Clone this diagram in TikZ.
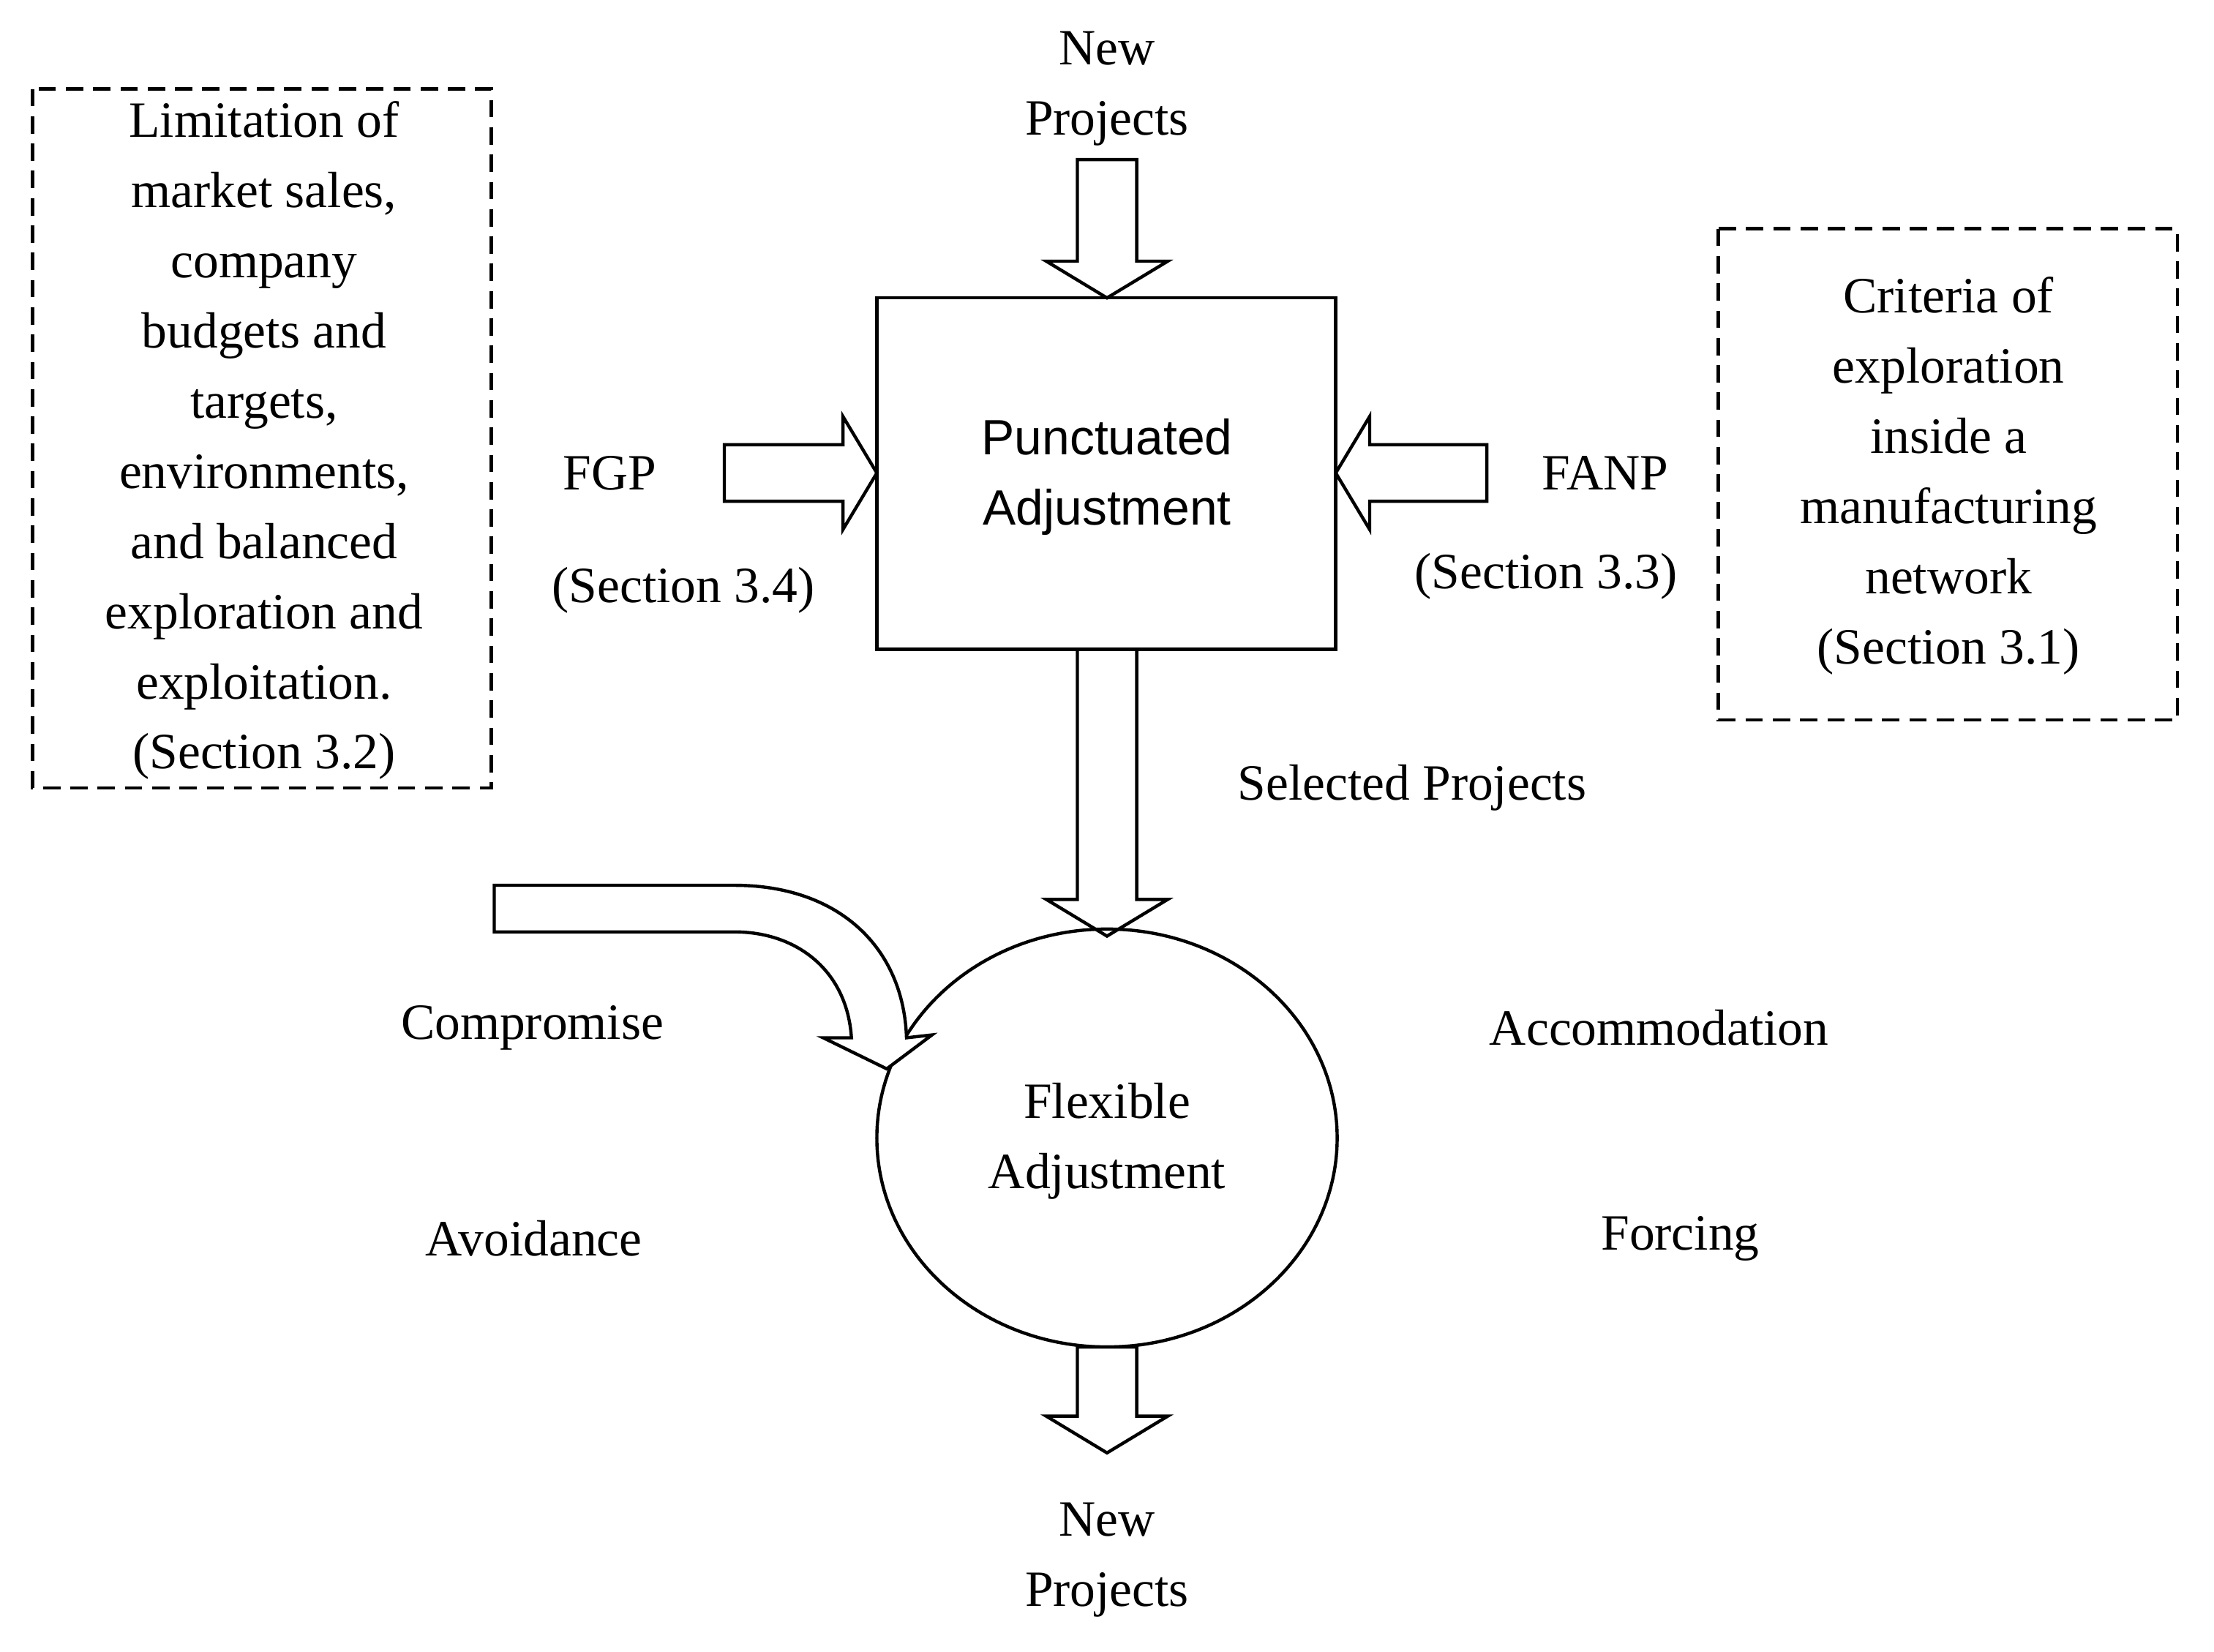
\documentclass[tikz,border=0pt]{standalone}
\usepackage{fontspec}
\setmainfont{Liberation Serif}
\newfontfamily\sansf{Liberation Sans}
\begin{document}
\begin{tikzpicture}[x=0.02cm,y=-0.02cm,
  txt/.style={align=center,font=\fontsize{20.5}{28.3}\selectfont,inner sep=0pt},
  blk/.style={draw,line width=1.3pt,fill=white,line join=miter},
  dbox/.style={draw,line width=1.3pt,dash pattern=on 7pt off 4pt}]
\useasboundingbox (0,0) rectangle (1568,1170);
\tikzset{down/.pic={\draw[blk] (-21,0) -- (21,0) -- (21,#1) -- (43,#1) -- (0,#1+26) -- (-43,#1) -- (-21,#1) -- cycle;}}
\node[txt] (np1) at (784,63) {New\\Projects};
\pic at (784,113) {down=72};
\node[draw,line width=1.3pt,minimum width=6.5cm,minimum height=4.98cm] (pa) at (783.5,335.5) {};
\node[txt,font=\sansf\fontsize{20}{28.3}\selectfont] at (784,338) {Punctuated\\Adjustment};
\draw[blk] (513,315) -- (597,315) -- (597,295) -- (621,335) -- (597,375) -- (597,355) -- (513,355) -- cycle;
\draw[blk] (1053,315) -- (970,315) -- (970,295) -- (946,335) -- (970,375) -- (970,355) -- (1053,355) -- cycle;
\node[txt] (fgp) at (432,335) {FGP};
\node[txt] at (484,418) {(Section 3.4)};
\node[txt] (fanp) at (1137,335) {FANP};
\node[txt] at (1095,408) {(Section 3.3)};
\draw[dbox] (23,63) rectangle (348,558);
\node[txt] at (187,312) {Limitation of\\market sales,\\company\\budgets and\\targets,\\environments,\\and balanced\\exploration and\\exploitation.\\(Section 3.2)};
\draw[dbox] (1217,162) rectangle (1542,510);
\node[txt] at (1380,337) {Criteria of\\exploration\\inside a\\manufacturing\\network\\(Section 3.1)};
\pic at (784,460) {down=177};
\node[txt] at (1000,558) {Selected Projects};
\draw[line width=1.3pt] (784,806) ellipse [x radius=163, y radius=148];
\node[txt] (fa) at (784,808) {Flexible\\Adjustment};
\pic at (784,954) {down=49};
\node[txt] (np2) at (784,1105) {New\\Projects};
\tikzset{curv/.pic={\draw[blk] (350,627) -- (520,627) .. controls (595,627) and (640,672) .. (642,735)
   -- (660,733) -- (628,757) -- (583,735) -- (603,735) .. controls (600,688) and (565,660) .. (520,660) -- (350,660) -- cycle;}}
\pic {curv};
\begin{scope}[shift={(1568,0)},xscale=-1]\pic {curv};\end{scope}
\begin{scope}[shift={(0,1612)},yscale=-1]\pic {curv};\end{scope}
\begin{scope}[shift={(1568,1612)},xscale=-1,yscale=-1]\pic {curv};\end{scope}
\node[txt] at (377,728) {Compromise};
\node[txt] at (1175,728) {Accommodation};
\node[txt] at (378,877) {Avoidance};
\node[txt] at (1190,877) {Forcing};
\end{tikzpicture}
\end{document}
